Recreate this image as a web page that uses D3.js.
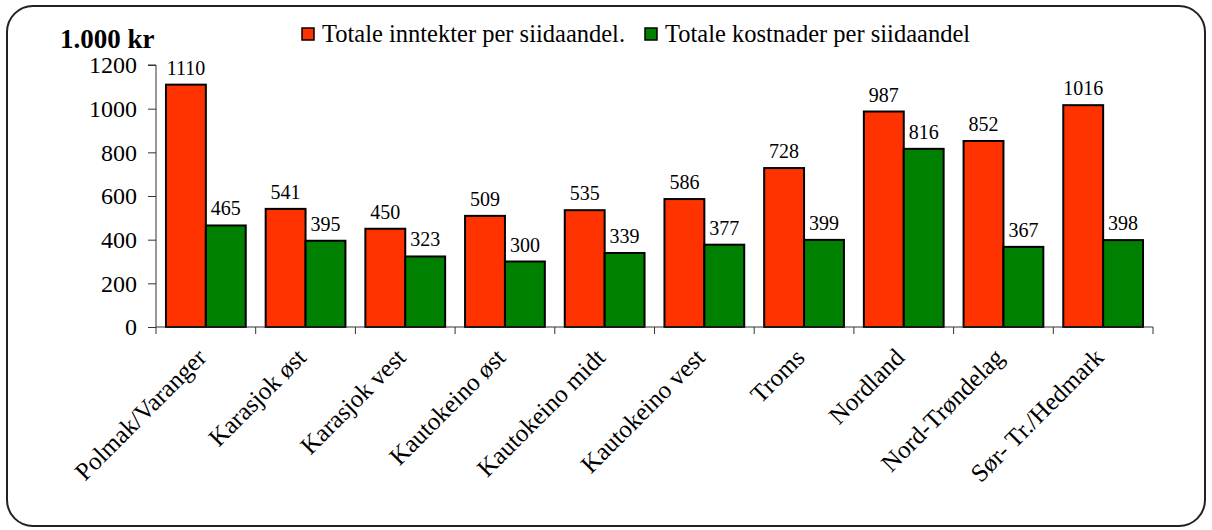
<!DOCTYPE html>
<html>
<head>
<meta charset="utf-8">
<script src="https://cdn.jsdelivr.net/npm/d3@7"></script>
<style>
  body { margin: 0; background: #fff; }
  svg { display: block; }
  svg text { font-family: "Liberation Serif", "Times New Roman", serif; fill: #000; }
</style>
</head>
<body>
<div id="chart"></div>
<script>
// data (1.000 kr per siidaandel)
const regions = ["Polmak/Varanger", "Karasjok øst", "Karasjok vest", "Kautokeino øst",
  "Kautokeino midt", "Kautokeino vest", "Troms", "Nordland", "Nord-Trøndelag", "Sør- Tr./Hedmark"];
const income = [1110, 541, 450, 509, 535, 586, 728, 987, 852, 1016];
const costs = [465, 395, 323, 300, 339, 377, 399, 816, 367, 398];
const yTicks = [0, 200, 400, 600, 800, 1000, 1200];
const seriesNames = ["Totale inntekter per siidaandel.", "Totale kostnader per siidaandel"];
const seriesColors = ["#ff3300", "#008000"];

const width = 1212, height = 530;
const plotLeft = 156, plotRight = 1153, plotTop = 65, plotBottom = 327;

const svg = d3.select("#chart").append("svg")
  .attr("width", width).attr("height", height);

// rounded frame
svg.append("rect")
  .attr("x", 7).attr("y", 6).attr("width", 1198).attr("height", 520)
  .attr("rx", 26).attr("ry", 26)
  .attr("fill", "#fff").attr("stroke", "#222").attr("stroke-width", 2);

const x = d3.scaleBand().domain(regions).range([plotLeft, plotRight])
  .paddingInner(0.2).paddingOuter(0.1);
const y = d3.scaleLinear().domain([0, 1200]).range([plotBottom, plotTop]);

// bars
const rows = regions.map((r, i) => ({region: r, values: [income[i], costs[i]]}));
const g = svg.append("g");
const groups = g.selectAll("g.cat").data(rows).enter().append("g").attr("class", "cat");
const half = x.bandwidth() / 2;

groups.selectAll("rect")
  .data(d => d.values.map((v, k) => ({region: d.region, v: v, k: k})))
  .enter().append("rect")
  .attr("x", d => x(d.region) + d.k * half)
  .attr("y", d => y(d.v))
  .attr("width", half)
  .attr("height", d => y(0) - y(d.v))
  .attr("fill", d => seriesColors[d.k])
  .attr("stroke", "#000").attr("stroke-width", 2);

groups.selectAll("text")
  .data(d => d.values.map((v, k) => ({region: d.region, v: v, k: k})))
  .enter().append("text")
  .attr("x", d => x(d.region) + d.k * half + half / 2)
  .attr("y", d => y(d.v) - 10)
  .attr("text-anchor", "middle")
  .style("font-size", "20px")
  .text(d => d.v);

// y axis
const yAxis = svg.append("g")
  .attr("transform", `translate(${plotLeft},0)`)
  .call(d3.axisLeft(y).tickValues(yTicks).tickSize(8).tickPadding(11).tickFormat(d3.format("d")));
yAxis.attr("font-family", null);
yAxis.selectAll("text").style("font-size", "24px");
yAxis.selectAll("line").attr("stroke", "#333");
yAxis.select(".domain").attr("stroke", "#333").attr("d", `M-8,${plotTop}H0V${plotBottom}`);

// x axis with ticks between categories
const edges = regions.map(r => x(r) - x.step() * x.paddingInner() / 2);
edges.push(plotRight);
const xAxis = svg.append("g");
xAxis.append("line").attr("x1", plotLeft).attr("x2", plotRight)
  .attr("y1", plotBottom).attr("y2", plotBottom)
  .attr("stroke", "#333");
xAxis.selectAll("line.tick").data(edges).enter().append("line").attr("class", "tick")
  .attr("x1", d => d).attr("x2", d => d).attr("y1", plotBottom).attr("y2", plotBottom + 7)
  .attr("stroke", "#333");

xAxis.selectAll("text").data(regions).enter().append("text")
  .attr("transform", d => `translate(${x(d) + x.bandwidth() / 2 + 2},${plotBottom + 32}) rotate(-45)`)
  .attr("text-anchor", "end")
  .style("font-size", "25px")
  .text(d => d);

// unit label
svg.append("text").attr("x", 60).attr("y", 48)
  .style("font-size", "27px").style("font-weight", "bold")
  .text("1.000 kr");

// legend
const legendX = [302, 645];
const legend = svg.append("g");
const items = legend.selectAll("g").data(seriesNames).enter().append("g")
  .attr("transform", (d, i) => `translate(${legendX[i]},28)`);
items.append("rect").attr("width", 12).attr("height", 12)
  .attr("fill", (d, i) => seriesColors[i]).attr("stroke", "#000").attr("stroke-width", 1.5);
items.append("text").attr("x", 20).attr("y", 14)
  .style("font-size", "24.5px").text(d => d);
</script>
</body>
</html>
